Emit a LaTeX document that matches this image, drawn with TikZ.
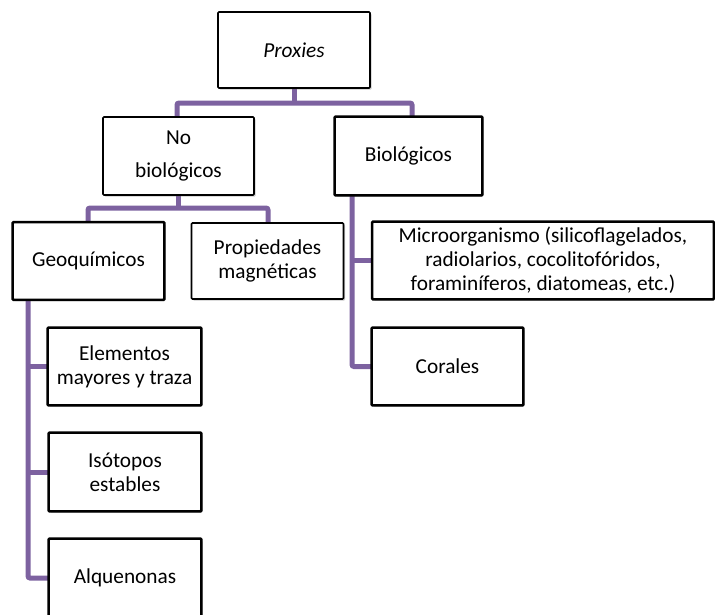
\documentclass[tikz,border=0pt]{standalone}
\usepackage{fontspec}
\setmainfont{Carlito}
\usetikzlibrary{shadows,calc}
\definecolor{conncol}{HTML}{7D62A0}
\tikzset{
  x=1pt,y=-1pt,
  box/.style={draw=black, line width=1.6pt, fill=white, rounded corners=1pt,
    align=center, inner sep=2pt, font=\fontsize{21.3}{24}\selectfont,
    drop shadow={shadow xshift=1.5pt, shadow yshift=-1.5pt, opacity=0.35, fill=black!60}},
  conn/.style={draw=conncol, line width=5pt, rounded corners=2pt},
  border/.style={line width=1.6pt, rounded corners=1pt}
}
\begin{document}
\begin{tikzpicture}
\useasboundingbox (0,0) rectangle (715,614);
% connectors under the upper boxes
\coordinate (pt) at (294,88);
\coordinate (pj) at (294,103);
\coordinate (nbl) at (177,117);
\coordinate (bbl) at (412,117);
\draw[conn] (pt) -- (pj);
\draw[conn] (nbl) |- (pj) -| (bbl);
\coordinate (nbs) at (178,195);
\coordinate (nbj) at (178,208);
\coordinate (gn) at (88,222);
\coordinate (mn) at (268,222);
\draw[conn] (nbs) -- (nbj);
\draw[conn] (gn) |- (nbj) -| (mn);
% boxes
\node[box, minimum width=152pt, minimum height=76pt] (proxies) at (294,50) {\textit{Proxies}};
\node[box, minimum width=151pt, minimum height=78pt] (nob) at (178.5,156) {No\\[9pt]biológicos};
\node[box, minimum width=147pt, minimum height=78pt] (bio) at (408.5,156) {Biológicos};
\node[box, minimum width=151pt, minimum height=77pt] (geo) at (88.5,261) {Geoquímicos};
\node[box, minimum width=152pt, minimum height=76pt] (mag) at (267.5,261) {Propiedades\\magnéticas};
% trunks
\coordinate (gt) at (28,300);
\coordinate (bt) at (352,195);
\node[box, minimum width=153pt, minimum height=77pt] (elem) at (124.5,366.5) {Elementos\\mayores y traza};
\node[box, minimum width=152pt, minimum height=78pt] (iso) at (125,472) {Isótopos\\estables};
\node[box, minimum width=152pt, minimum height=78pt] (alq) at (125,578) {Alquenonas};
\node[box, minimum width=341pt, minimum height=77pt] (micro) at (543,260.5) {Microorganismo (silicoflagelados,\\radiolarios, cocolitofóridos,\\foraminíferos, diatomeas, etc.)};
\node[box, minimum width=151pt, minimum height=77pt] (cor) at (447.5,366.5) {Corales};
\draw[conn] (gt) |- (alq.west);
\draw[conn] (elem.west -| gt) -- (elem.west);
\draw[conn] (iso.west -| gt) -- (iso.west);
\draw[conn] (bt) |- (cor.west);
\draw[conn] (micro.west -| bt) -- (micro.west);
% redraw box borders over connector ends
\foreach \n in {geo,bio,elem,iso,alq,micro,cor}{
  \draw[border] (\n.north west) rectangle (\n.south east);
}
\end{tikzpicture}
\end{document}
